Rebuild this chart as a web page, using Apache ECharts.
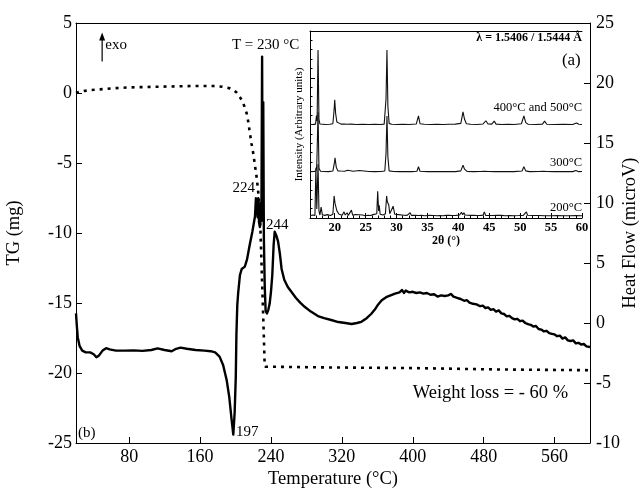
<!DOCTYPE html>
<html>
<head>
<meta charset="utf-8">
<script src="https://cdn.jsdelivr.net/npm/echarts@6/dist/echarts.min.js"></script>
<style>
  html, body { margin: 0; padding: 0; background: #fff; }
  #chart { width: 642px; height: 490px; }
</style>
</head>
<body>
<div id="chart"></div>
<script>
// ---- Thermal analysis (TG / DSC) ----
const tgTemp = [20, 25, 35, 47, 60, 80, 100, 122, 150, 175, 185, 193.7, 198, 201, 204, 207, 210, 212.6, 214.5, 216.3, 218, 220, 222, 223.8, 225.2, 226.4, 227, 228, 229, 230, 231, 232, 232.8, 233.5, 240, 300, 400, 500, 600];
const tgMass = [0.0, 0.1, 0.2, 0.26, 0.33, 0.4, 0.43, 0.46, 0.5, 0.5, 0.45, 0.33, 0.2, 0.05, -0.2, -0.5, -0.95, -1.45, -2.1, -2.9, -3.6, -4.3, -5.2, -6.0, -6.8, -7.6, -8.2, -9.5, -11.5, -13.5, -15.5, -17.5, -19.2, -19.55, -19.55, -19.6, -19.65, -19.75, -19.8];

const dscTemp = [20, 21, 22, 24, 27, 31, 36, 40, 43, 46, 50, 54, 58, 65, 75, 85, 95, 105, 112, 120, 128, 133, 138, 145, 155, 165, 172, 177, 182, 186, 190, 193, 195.5, 197.5, 199, 200.3, 201, 202, 203, 205, 207, 210.5, 213, 216, 219, 222, 223, 224, 225, 225.7, 226.5, 227.5, 228.5, 229.2, 230, 230.6, 231.3, 232, 233, 234, 235.5, 237, 238.5, 240, 241.5, 243, 244.2, 246, 248, 250, 252, 255, 259, 263, 268, 273, 278, 285, 293, 300, 308, 316, 324, 331, 337, 342, 348, 353, 357, 361, 365, 370, 375, 380, 385, 388, 390, 392, 396, 400, 404, 408, 412, 416, 420, 424, 428, 432, 436, 440, 443, 446, 450, 454, 458, 461, 464, 468, 472, 476, 479, 482, 485, 488, 491, 494, 497, 500, 503, 506, 509, 512, 515, 518, 521, 524, 527, 530, 533, 536, 539, 542, 545, 548, 551, 554, 557, 560, 563, 566, 569, 572, 575, 578, 581, 584, 587, 590, 593, 596, 600];
const dscFlow = [0.8, -0.3, -1.2, -1.9, -2.3, -2.45, -2.45, -2.6, -2.85, -2.7, -2.3, -2.1, -2.2, -2.3, -2.3, -2.28, -2.32, -2.25, -2.12, -2.25, -2.35, -2.15, -2.05, -2.15, -2.25, -2.3, -2.35, -2.45, -2.8, -3.5, -4.75, -6.2, -8.0, -9.3, -7.5, -4.5, -1.0, 1.5, 2.5, 4.0, 4.5, 4.7, 5.3, 6.5, 7.6, 8.9, 10.4, 10.2, 8.8, 10.4, 8.4, 8.0, 10.0, 8.5, 22.2, 9.0, 18.4, 7.0, 3.0, 1.0, 0.8, 1.1, 1.6, 2.6, 4.0, 6.5, 7.6, 7.3, 6.8, 5.8, 4.5, 3.6, 3.0, 2.6, 2.1, 1.7, 1.35, 0.95, 0.58, 0.4, 0.25, 0.08, 0.0, -0.08, 0.0, 0.1, 0.4, 0.75, 1.1, 1.55, 1.9, 2.15, 2.3, 2.45, 2.55, 2.75, 2.5, 2.7, 2.55, 2.6, 2.5, 2.55, 2.45, 2.5, 2.35, 2.4, 2.2, 2.3, 2.25, 2.3, 2.42, 2.2, 2.1, 2.0, 1.85, 1.9, 1.7, 1.6, 1.55, 1.4, 1.45, 1.25, 1.3, 1.1, 1.15, 0.95, 1.05, 0.8, 0.75, 0.55, 0.6, 0.4, 0.3, 0.35, 0.15, 0.2, 0.0, -0.1, -0.15, -0.3, -0.25, -0.5, -0.55, -0.7, -0.65, -0.85, -0.9, -0.95, -1.1, -1.05, -1.3, -1.2, -1.45, -1.5, -1.45, -1.7, -1.65, -1.8, -1.75, -1.95, -2.0];

const tempTicks = [80, 160, 240, 320, 400, 480, 560];

// ---- X-ray diffraction patterns (2θ, relative intensity) ----
const xrd400 = [[16.0,0.2],[16.5,0.3],[16.9,0.4],[17.05,5],[17.15,2],[17.3,40],[17.45,3],[17.6,0.5],[17.9,0.3],[18.5,0.2],[19.2,0.3],[19.7,0.6],[19.9,8],[20.0,13.4],[20.15,6],[20.35,1.5],[20.6,0.6],[21.0,0.4],[21.5,0.5],[22.0,0.3],[22.6,0.4],[23.5,0.2],[24.5,0.3],[25.5,0.2],[26.5,0.3],[27.4,0.2],[28.0,0.4],[28.3,14],[28.45,40],[28.6,10],[28.8,0.8],[29.2,0.3],[30.0,0.2],[31.0,0.3],[32.0,0.2],[33.2,0.5],[33.55,4.8],[33.8,0.6],[34.5,0.3],[35.5,0.2],[36.5,0.3],[37.5,0.2],[38.5,0.3],[39.5,0.4],[40.4,0.8],[40.75,7],[41.0,3],[41.3,0.6],[42.0,0.3],[43.0,0.2],[44.0,0.5],[44.45,2.2],[44.8,0.5],[45.4,0.4],[45.8,2],[46.1,0.4],[47.0,0.2],[48.0,0.3],[49.0,0.2],[50.2,0.6],[50.6,4.8],[50.9,1.2],[51.3,0.3],[52.5,0.2],[53.6,0.4],[53.95,2],[54.3,0.3],[55.5,0.2],[57.0,0.3],[58.5,0.2],[59.1,1],[59.5,0.3],[60.0,0.2]];
const xrd300 = [[16.0,0.2],[16.6,0.3],[17.0,0.5],[17.1,4],[17.3,32],[17.45,2],[17.7,0.4],[18.3,0.3],[19.0,0.2],[19.7,0.5],[19.95,5],[20.05,7.6],[20.25,2.5],[20.5,0.6],[21.0,0.5],[21.3,1.1],[21.6,0.4],[22.1,0.9],[22.4,0.3],[23.0,0.4],[24.0,0.8],[24.3,0.2],[25.5,0.3],[26.5,0.2],[27.5,0.3],[28.1,0.5],[28.3,10],[28.45,30],[28.6,8],[28.8,0.6],[29.5,0.3],[30.5,0.2],[31.5,0.3],[32.5,0.2],[33.3,0.4],[33.55,2.8],[33.8,0.4],[35.0,0.2],[36.0,0.3],[37.0,0.2],[38.5,0.3],[39.5,0.2],[40.4,0.6],[40.75,3.7],[41.0,1.5],[41.4,0.3],[42.5,0.2],[43.5,0.3],[44.3,0.4],[44.55,1],[44.8,0.3],[46.0,0.2],[47.5,0.3],[49.0,0.2],[50.3,0.5],[50.6,2.8],[50.9,0.6],[51.5,0.2],[53.0,0.3],[53.8,0.4],[54.0,1],[54.3,0.3],[55.5,0.2],[57.0,0.3],[58.5,0.2],[59.0,0.8],[59.4,0.2],[60.0,0.3]];
const xrd200 = [[16.0,0.4],[16.4,0.8],[16.8,0.6],[16.95,26],[17.1,4],[17.3,28],[17.45,3],[17.6,0.8],[17.8,5],[18.0,0.9],[18.4,0.6],[18.8,1.0],[19.3,0.5],[19.7,1.2],[19.9,11],[20.05,7],[20.2,6],[20.35,3],[20.5,4],[20.7,1.2],[21.0,1.8],[21.2,0.7],[21.5,2.5],[21.7,0.8],[22.0,2],[22.2,0.6],[22.5,1.2],[22.7,3.4],[22.9,0.7],[23.3,1.0],[23.6,0.5],[24.0,0.9],[24.5,0.8],[24.9,0.4],[25.4,0.7],[25.8,0.5],[26.2,1.0],[26.5,0.6],[26.8,1.5],[26.95,13.5],[27.1,3],[27.2,6],[27.35,1.2],[27.8,0.8],[28.2,1.5],[28.4,11],[28.5,8],[28.75,6],[28.9,1.5],[29.2,1.2],[29.45,5.5],[29.7,1.2],[30.0,0.8],[30.3,1],[30.6,0.5],[31.2,0.7],[31.7,0.6],[32.2,2],[32.4,0.6],[33.0,0.7],[33.5,0.5],[34.0,0.6],[34.6,0.4],[35.3,0.6],[36.0,0.5],[36.6,0.4],[37.0,0.5],[37.5,0.4],[38.0,0.6],[38.5,0.7],[39.0,0.5],[39.6,0.6],[40.2,0.8],[40.5,2.3],[40.7,0.9],[40.9,2],[41.1,0.8],[41.3,1.5],[41.5,0.7],[41.8,1.5],[42.0,0.6],[42.5,0.7],[43.0,0.5],[43.6,0.6],[44.0,0.7],[44.2,2.5],[44.4,0.6],[45.0,0.5],[45.5,0.5],[46.2,0.6],[47.0,0.6],[47.6,0.4],[48.3,0.5],[49.0,0.4],[49.8,0.5],[50.5,0.6],[50.8,1.0],[51.0,2.5],[51.2,0.7],[52.0,0.5],[53.0,0.5],[54.0,0.4],[55.0,0.4],[56.0,0.5],[57.0,0.4],[58.0,0.4],[59.0,0.5],[60.0,0.4]];

const thetaTicks = [20, 25, 30, 35, 40, 45, 50, 55, 60];
// vertical offsets that stack the three diffraction patterns
const offset200 = 0.8, offset300 = 24.6, offset400 = 49.8;

const FONT = '"Liberation Serif", "DejaVu Serif", serif';
const INK = '#000';

function pairs(xs, ys) { return xs.map((x, i) => [x, ys[i]]); }
function shift(pts, dy) { return pts.map(p => [p[0], p[1] + dy]); }

const chart = echarts.init(document.getElementById('chart'), null, { renderer: 'canvas' });

const lineAxis = { show: true, onZero: false, lineStyle: { color: INK, width: 1 } };

const option = {
  animation: false,
  backgroundColor: '#fff',
  textStyle: { fontFamily: FONT, color: INK },
  grid: [
    { left: 76, top: 23, right: 52, bottom: 47, outerBoundsMode: 'none', containLabel: false },
    { left: 310, top: 31, right: 60, bottom: 272, outerBoundsMode: 'none', containLabel: false }
  ],
  xAxis: [
    { // temperature axis
      type: 'value', gridIndex: 0, min: 20, max: 600, position: 'bottom',
      name: 'Temperature (°C)', nameLocation: 'middle', nameGap: 27, nameMoveOverlap: false,
      nameTextStyle: { fontFamily: FONT, fontSize: 18.5, color: INK },
      axisLine: lineAxis,
      axisTick: { inside: true, length: 6, lineStyle: { color: INK }, customValues: tempTicks },
      axisLabel: { fontFamily: FONT, fontSize: 18, color: INK, margin: 5, customValues: tempTicks },
      splitLine: { show: false }
    },
    { // frame top
      type: 'value', gridIndex: 0, min: 20, max: 600, position: 'top',
      axisLine: lineAxis, axisTick: { show: false }, axisLabel: { show: false }, splitLine: { show: false }
    },
    { // 2θ axis
      type: 'value', gridIndex: 1, min: 16, max: 60, position: 'bottom',
      name: '2θ (°)', nameLocation: 'middle', nameGap: 17, nameMoveOverlap: false,
      nameTextStyle: { fontFamily: FONT, fontSize: 12, fontWeight: 'bold', color: INK },
      axisLine: lineAxis,
      axisTick: { inside: true, length: 5, lineStyle: { color: INK }, customValues: thetaTicks },
      axisLabel: { fontFamily: FONT, fontSize: 12.5, fontWeight: 'bold', color: INK, margin: 3, customValues: thetaTicks },
      splitLine: { show: false }
    },
    { // 2θ minor ticks
      type: 'value', gridIndex: 1, min: 16, max: 60, interval: 1, position: 'bottom',
      axisLine: { show: false, onZero: false },
      axisTick: { inside: true, length: 2.5, lineStyle: { color: INK } },
      axisLabel: { show: false }, splitLine: { show: false }
    },
    { // inset top border
      type: 'value', gridIndex: 1, min: 16, max: 60, position: 'top',
      axisLine: lineAxis, axisTick: { show: false }, axisLabel: { show: false }, splitLine: { show: false }
    }
  ],
  yAxis: [
    {
      type: 'value', gridIndex: 0, min: -25, max: 5, interval: 5, position: 'left',
      name: 'TG (mg)', nameLocation: 'middle', nameGap: 52, nameRotate: 90, nameMoveOverlap: false,
      nameTextStyle: { fontFamily: FONT, fontSize: 18.5, color: INK },
      axisLine: lineAxis,
      axisTick: { inside: true, length: 6, lineStyle: { color: INK } },
      axisLabel: { fontFamily: FONT, fontSize: 18, color: INK, margin: 4 },
      splitLine: { show: false }
    },
    {
      type: 'value', gridIndex: 0, min: -10, max: 25, interval: 5, position: 'right',
      name: 'Heat Flow (microV)', nameLocation: 'middle', nameGap: 31, nameRotate: 90, nameMoveOverlap: false,
      nameTextStyle: { fontFamily: FONT, fontSize: 18.5, color: INK },
      axisLine: lineAxis,
      axisTick: { inside: true, length: 6, lineStyle: { color: INK } },
      axisLabel: { fontFamily: FONT, fontSize: 18, color: INK, margin: 6 },
      splitLine: { show: false }
    },
    {
      type: 'value', gridIndex: 1, min: 0, max: 100, interval: 25, position: 'left',
      name: 'Intensity (Arbitrary units)', nameLocation: 'middle', nameGap: 5, nameRotate: 90, nameMoveOverlap: false,
      nameTextStyle: { fontFamily: FONT, fontSize: 11, color: INK },
      axisLine: lineAxis,
      axisTick: { inside: true, length: 5, lineStyle: { color: INK } },
      minorTick: { show: true, splitNumber: 5, length: 2.5, lineStyle: { color: INK } },
      axisLabel: { show: false },
      splitLine: { show: false }
    }
  ],
  series: [
    {
      name: 'TG', type: 'line', xAxisIndex: 0, yAxisIndex: 0,
      data: pairs(tgTemp, tgMass), showSymbol: false, smooth: false,
      lineStyle: { color: INK, width: 2.6, type: [3, 5] }, z: 3
    },
    {
      name: 'DSC', type: 'line', xAxisIndex: 0, yAxisIndex: 1,
      data: pairs(dscTemp, dscFlow), showSymbol: false,
      lineStyle: { color: INK, width: 2.4, join: 'round' }, z: 4
    },
    {
      name: '200°C', type: 'line', xAxisIndex: 2, yAxisIndex: 2,
      data: shift(xrd200, offset200), showSymbol: false,
      lineStyle: { color: '#111', width: 1.1 }, z: 5
    },
    {
      name: '300°C', type: 'line', xAxisIndex: 2, yAxisIndex: 2,
      data: shift(xrd300, offset300), showSymbol: false,
      lineStyle: { color: '#111', width: 1.1 }, z: 5
    },
    {
      name: '400°C and 500°C', type: 'line', xAxisIndex: 2, yAxisIndex: 2,
      data: shift(xrd400, offset400), showSymbol: false,
      lineStyle: { color: '#111', width: 1.1 }, z: 5
    }
  ]
};

chart.setOption(option);

// annotations tied to the axes
const hf = (pt) => chart.convertToPixel({ xAxisIndex: 0, yAxisIndex: 1 }, pt);
const ins = (pt) => chart.convertToPixel({ xAxisIndex: 2, yAxisIndex: 2 }, pt);

function label(pos, text, size, align, weight) {
  return {
    type: 'text', x: pos[0], y: pos[1], z: 20,
    style: {
      text: text, fill: INK, font: (weight || 'normal') + ' ' + size + 'px ' + FONT,
      textAlign: align, textVerticalAlign: 'middle'
    }
  };
}

const g = [
  label(hf([234, 23.2]), 'T = 230 °C', 15, 'center'),
  label(hf([222, 11.25]), '224', 15, 'right'),
  label(hf([234.4, 8.2]), '244', 15, 'left'),
  label(hf([200.6, -9.1]), '197', 15, 'left'),
  label(hf([22.3, -9.2]), '(b)', 15, 'left'),
  label(hf([400, -5.85]), 'Weight loss = - 60 %', 18.5, 'left'),
  label(hf([53, 23.2]), 'exo', 15, 'left'),
  label(ins([60, 96.5]), 'λ = 1.5406 / 1.5444 Å', 12, 'right', 'bold'),
  label(ins([59.8, 84.4]), '(a)', 17, 'right'),
  label(ins([60, 59]), '400°C and 500°C', 12.5, 'right'),
  label(ins([60, 29.5]), '300°C', 12.5, 'right'),
  label(ins([60, 5.5]), '200°C', 12.5, 'right')
];

// exo arrow
const aBase = hf([49.5, 21.8]);
const aTip = hf([49.5, 24.2]);
g.push({
  type: 'line', z: 20,
  shape: { x1: aBase[0], y1: aBase[1], x2: aTip[0], y2: aTip[1] + 4 },
  style: { stroke: INK, lineWidth: 1.2 }
});
g.push({
  type: 'polygon', z: 20,
  shape: { points: [[aTip[0], aTip[1]], [aTip[0] - 3, aTip[1] + 8], [aTip[0] + 3, aTip[1] + 8]] },
  style: { fill: INK }
});

chart.setOption({ graphic: g });
</script>
</body>
</html>
